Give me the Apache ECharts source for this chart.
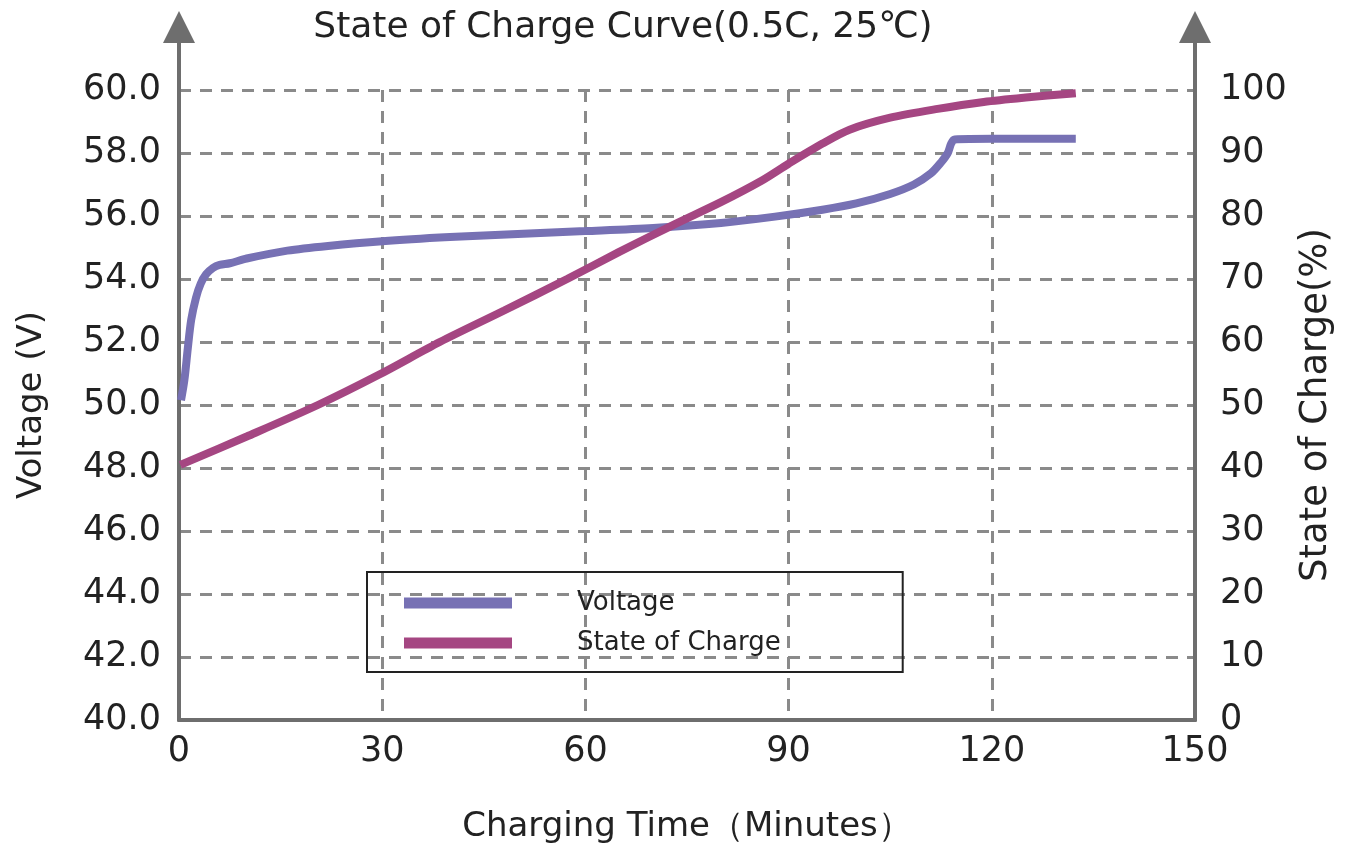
<!DOCTYPE html>
<html>
<head>
<meta charset="utf-8">
<script src="https://cdn.jsdelivr.net/npm/echarts@6/dist/echarts.min.js"></script>
<style>
html,body{margin:0;padding:0;background:#fff;}
#chart{width:1358px;height:855px;}
</style>
</head>
<body>
<div id="chart"></div>
<script>
const titleText = 'State of Charge Curve(0.5C, 25℃)';
const xAxisName = 'Charging Time（Minutes）';
const yLeftName = 'Voltage (V)';
const yRightName = 'State of Charge(%)';
const seriesNames = ['Voltage', 'State of Charge'];

const voltTime = [0.3, 0.8, 1.3, 1.8, 2.5, 3.2, 4, 5, 6, 7.5, 10, 16, 22, 30, 40, 50, 60, 70, 80, 88, 95, 100, 105, 108.5, 111, 112.5, 113.5, 114, 114.5, 120, 132.4];
const voltValues = [50.15, 50.8, 51.8, 52.7, 53.4, 53.85, 54.15, 54.35, 54.45, 54.5, 54.65, 54.9, 55.05, 55.2, 55.33, 55.43, 55.52, 55.62, 55.78, 55.98, 56.2, 56.4, 56.7, 57.0, 57.35, 57.7, 58.0, 58.3, 58.43, 58.45, 58.45];

const socTime = [0.2, 10, 20.5, 29.5, 38.5, 48, 57.3, 65, 73, 80, 86, 90, 95, 99, 105, 112, 118.8, 125, 132.4];
const socValues = [40.5, 45, 50, 54.8, 60, 65, 70, 74.3, 78.6, 82.2, 85.6, 88.3, 91.5, 93.7, 95.6, 97.0, 98.1, 98.8, 99.5];

const xTicks = [0, 30, 60, 90, 120, 150];

const voltData = voltTime.map((t, i) => [t, voltValues[i]]);
const socData = socTime.map((t, i) => [t, socValues[i]]);

const FONT = 'DejaVu Sans';
const AXIS = '#6e6e6e';
const GRID = '#8a8a8a';
const VCOL = '#7771b4';
const SCOL = '#a54682';

const chart = echarts.init(document.getElementById('chart'), null, {renderer: 'canvas'});
chart.setOption({
  animation: false,
  backgroundColor: '#fff',
  title: {
    text: titleText,
    left: 618, top: 5,
    textAlign: 'center',
    textStyle: {fontFamily: FONT, fontSize: 36, fontWeight: 'normal', color: '#222'}
  },
  legend: {
    data: seriesNames,
    orient: 'vertical',
    left: 367, top: 572,
    padding: [16, 122, 14, 37],
    itemGap: 10,
    itemWidth: 108, itemHeight: 11,
    icon: 'rect',
    borderColor: '#222', borderWidth: 2,
    textStyle: {fontFamily: FONT, fontSize: 26, color: '#222', lineHeight: 30, padding: [0, 0, 0, 60]}
  },
  grid: [
    {left: 179, right: 163, top: 90, bottom: 135, containLabel: false},
    {left: 179, right: 163, top: 27, bottom: 135, containLabel: false}
  ],
  xAxis: [
    {
      type: 'value', gridIndex: 0, min: 0, max: 150, interval: 30,
      name: xAxisName, nameLocation: 'middle', nameGap: 90,
      nameTextStyle: {fontFamily: FONT, fontSize: 34, color: '#222'},
      axisLine: {show: true, lineStyle: {color: AXIS, width: 4}},
      axisTick: {show: false},
      axisLabel: {fontFamily: FONT, fontSize: 35, color: '#222', margin: 14,
        formatter: v => xTicks.includes(v) ? String(v) : ''},
      splitLine: {show: true, showMinLine: false, showMaxLine: false, lineStyle: {color: GRID, width: 3, type: [12, 9]}}
    },
    {type: 'value', gridIndex: 1, min: 0, max: 150, show: false}
  ],
  yAxis: [
    {
      type: 'value', gridIndex: 0, min: 40, max: 60, interval: 2, position: 'left',
      name: yLeftName, nameLocation: 'middle', nameGap: 130, nameRotate: 90,
      nameTextStyle: {fontFamily: FONT, fontSize: 34, color: '#222'},
      axisLine: {show: true, lineStyle: {color: AXIS, width: 4}},
      axisTick: {show: false},
      axisLabel: {fontFamily: FONT, fontSize: 35, color: '#222', margin: 18,
        formatter: v => v.toFixed(1)},
      splitLine: {show: true, showMinLine: false, showMaxLine: true, lineStyle: {color: GRID, width: 3, type: [12, 9]}}
    },
    {
      type: 'value', gridIndex: 0, min: 0, max: 100, interval: 10, position: 'right',
      name: yRightName, nameLocation: 'middle', nameGap: 103, nameRotate: 90,
      nameTextStyle: {fontFamily: FONT, fontSize: 37, color: '#222'},
      axisLine: {show: true, lineStyle: {color: AXIS, width: 4}},
      axisTick: {show: false},
      axisLabel: {fontFamily: FONT, fontSize: 35, color: '#222', margin: 25},
      splitLine: {show: false}
    },
    {
      type: 'value', gridIndex: 1, min: 0, max: 1, position: 'left',
      axisLine: {show: true, symbol: ['none', 'triangle'], symbolSize: [32, 32], lineStyle: {color: AXIS, width: 4}},
      axisTick: {show: false}, axisLabel: {show: false}, splitLine: {show: false}
    },
    {
      type: 'value', gridIndex: 1, min: 0, max: 1, position: 'right',
      axisLine: {show: true, symbol: ['none', 'triangle'], symbolSize: [32, 32], lineStyle: {color: AXIS, width: 4}},
      axisTick: {show: false}, axisLabel: {show: false}, splitLine: {show: false}
    }
  ],
  series: [
    {
      name: seriesNames[0], type: 'line', xAxisIndex: 0, yAxisIndex: 0, data: voltData,
      showSymbol: false, smooth: 0.3,
      lineStyle: {color: VCOL, width: 8}, itemStyle: {color: VCOL}
    },
    {
      name: seriesNames[1], type: 'line', xAxisIndex: 0, yAxisIndex: 1, data: socData,
      showSymbol: false, smooth: 0.3,
      lineStyle: {color: SCOL, width: 8}, itemStyle: {color: SCOL}
    }
  ]
});
</script>
</body>
</html>
